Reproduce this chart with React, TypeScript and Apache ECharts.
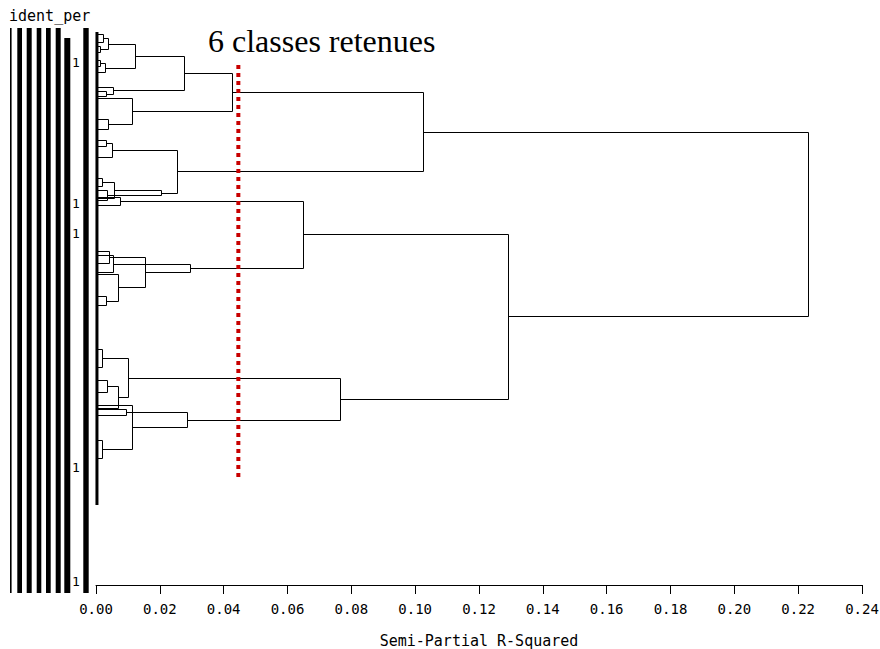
import React, { useEffect, useRef } from 'react';
import * as echarts from 'echarts';

// ---- axis / texts ----
const X_MIN = 0;
const X_MAX = 0.24;
const X_STEP = 0.02;
const AXIS_TITLE = 'Semi-Partial R-Squared';
const ID_LABEL = 'ident_per';
const ANNOTATION = '6 classes retenues';
const ID_MARKS = ['1', '1', '1', '1', '1'];

// ---- cut line (semi-partial R² where the tree is cut into 6 classes) ----
const CUT_HEIGHT = 0.0446;
const CUT_RANKS = [15, 221];

// ---- leaf axis: observations are ordered by rank along the vertical axis ----
const LEAF_RANKS = [-1.5, 235];

// rank (position along the leaf order) of each visible terminal branch
const TERMINAL_RANKS = [
  -0.5, 3.5, 5.5, 8.5, 12.5, 15.5, 18.5, 26, 28, 30.5,
  31.5, 42, 47, 52.5, 55.5, 61, 71.5, 75.5, 77.5, 81,
  81.5, 82.5, 85, 108, 110, 114, 118.5, 119.5, 130.5, 135,
  157, 166, 172.5, 178.5, 185, 186.5, 187, 190, 202.5, 211.5,
];

// merges: [child A, child B, semi-partial R²]; L# = terminal, M# = earlier merge
const MERGES: [string, string, number][] = [
  ['L0', 'L1', 0.0022],
  ['L2', 'L3', 0.0012],
  ['M0', 'M1', 0.0039],
  ['L4', 'L5', 0.0012],
  ['M3', 'L6', 0.0028],
  ['M2', 'M4', 0.0122],
  ['L8', 'L9', 0.0031],
  ['L7', 'M6', 0.0053],
  ['M5', 'M7', 0.0276],
  ['L11', 'L12', 0.0038],
  ['L10', 'M9', 0.0113],
  ['M8', 'M10', 0.0425],
  ['L13', 'L14', 0.0031],
  ['M12', 'L15', 0.005],
  ['L16', 'L17', 0.002],
  ['M14', 'L20', 0.0055],
  ['L18', 'L21', 0.0035],
  ['M15', 'M16', 0.0203],
  ['M13', 'M17', 0.0254],
  ['M11', 'M18', 0.1025],
  ['L19', 'L22', 0.0075],
  ['L24', 'L26', 0.0053],
  ['L23', 'L25', 0.004],
  ['L28', 'L29', 0.003],
  ['L27', 'M23', 0.0069],
  ['M22', 'M24', 0.0154],
  ['M21', 'M25', 0.0294],
  ['M20', 'M26', 0.0647],
  ['L30', 'L31', 0.0018],
  ['L32', 'L33', 0.0035],
  ['M29', 'L35', 0.007],
  ['M28', 'M30', 0.01],
  ['L36', 'L37', 0.0093],
  ['L38', 'L39', 0.002],
  ['L34', 'M33', 0.0112],
  ['M32', 'M34', 0.0286],
  ['M31', 'M35', 0.0765],
  ['M27', 'M36', 0.129],
  ['M19', 'M37', 0.223],
];

function buildSegments() {
  const ys: number[] = [];
  const hs: number[] = [];
  const get = (id: string): [number, number] => {
    const i = parseInt(id.slice(1), 10);
    if (id[0] === 'L') return [0, TERMINAL_RANKS[i]];
    return [hs[i], ys[i]];
  };
  const out: number[][] = [];
  MERGES.forEach(([a, b, h]) => {
    const [ha, ya] = get(a);
    const [hb, yb] = get(b);
    hs.push(h);
    ys.push((ya + yb) / 2);
    out.push([ha, ya, h, yb, hb]);
  });
  return out;
}

// ---- layout (pixels) for the SAS id column decoration ----
const BAR_LAYOUT = [
  { x: 10, w: 1.6, top: 28 },
  { x: 17.3, w: 4.7, top: 28 },
  { x: 26.7, w: 5, top: 28 },
  { x: 36.7, w: 4.6, top: 28 },
  { x: 46, w: 4.7, top: 28 },
  { x: 55.7, w: 5, top: 28 },
  { x: 64.3, w: 6, top: 38 },
  { x: 83.3, w: 5.4, top: 28 },
];
const BAR_BOTTOM = 593;
const MARK_Y = [62, 203, 233, 467, 581];

export default function App() {
  const ref = useRef<HTMLDivElement>(null);
  useEffect(() => {
    if (!ref.current) return;
    const chart = echarts.init(ref.current, undefined, { renderer: 'svg' });
    const segments = buildSegments();
    const mono = 'DejaVu Sans Mono';

    const graphics: any[] = [];
    BAR_LAYOUT.forEach((b) => {
      graphics.push({
        type: 'rect',
        shape: { x: b.x, y: b.top, width: b.w, height: BAR_BOTTOM - b.top },
        style: { fill: '#000' },
        silent: true,
      });
    });
    ID_MARKS.forEach((m, i) => {
      graphics.push({
        type: 'text',
        x: 76,
        y: MARK_Y[i],
        style: { text: m, font: `13px "${mono}"`, fill: '#000', align: 'center', verticalAlign: 'middle' },
        silent: true,
      });
    });
    graphics.push({
      type: 'text',
      x: 9,
      y: 16,
      style: { text: ID_LABEL, font: `15px "${mono}"`, fill: '#000', align: 'left', verticalAlign: 'middle' },
      silent: true,
    });
    graphics.push({
      type: 'text',
      x: 208,
      y: 41,
      style: { text: ANNOTATION, font: `32px "Liberation Serif"`, fill: '#000', align: 'left', verticalAlign: 'middle' },
      silent: true,
    });

    chart.setOption({
      animation: false,
      backgroundColor: '#fff',
      grid: { left: 96, right: 18, top: 27, bottom: 64, outerBoundsMode: 'none' },
      xAxis: {
        type: 'value',
        min: X_MIN,
        max: X_MAX,
        interval: X_STEP,
        splitLine: { show: false },
        axisLine: { show: true, onZero: false, lineStyle: { color: '#000', width: 1 } },
        axisTick: { show: true, length: 9, lineStyle: { color: '#000', width: 1 } },
        axisLabel: {
          margin: 17,
          color: '#000',
          fontFamily: mono,
          fontSize: 14,
          showMinLabel: true,
          showMaxLabel: true,
          formatter: (v: number) => v.toFixed(2),
        },
        name: AXIS_TITLE,
        nameLocation: 'middle',
        nameGap: 48,
        nameTextStyle: { color: '#000', fontFamily: mono, fontSize: 15 },
      },
      yAxis: {
        type: 'value',
        inverse: true,
        min: -4,
        max: 275,
        show: false,
      },
      graphic: graphics,
      series: [
        {
          type: 'line',
          data: LEAF_RANKS.map((r) => [0.0003, r]),
          symbol: 'none',
          clip: false,
          lineStyle: { color: '#000', width: 3 },
          silent: true,
        },
        {
          type: 'custom',
          data: segments,
          encode: { x: [0, 2, 4], y: [1, 3] },
          clip: false,
          silent: true,
          renderItem: (_p: any, api: any) => {
            const pts = [
              api.coord([api.value(0), api.value(1)]),
              api.coord([api.value(2), api.value(1)]),
              api.coord([api.value(2), api.value(3)]),
              api.coord([api.value(4), api.value(3)]),
            ].map((p: number[]) => [Math.round(p[0]) + 0.5, Math.round(p[1]) + 0.5]);
            return {
              type: 'polyline',
              shape: { points: pts },
              style: { stroke: '#000', lineWidth: 1, fill: 'none' },
            };
          },
        },
        {
          type: 'line',
          data: CUT_RANKS.map((r) => [CUT_HEIGHT, r]),
          symbol: 'none',
          clip: false,
          lineStyle: { color: '#c80000', width: 4, type: [4, 4] },
          silent: true,
        },
      ],
    });
    return () => chart.dispose();
  }, []);
  return <div ref={ref} style={{ position: 'fixed', left: 0, top: 0, width: 880, height: 649 }} />;
}
